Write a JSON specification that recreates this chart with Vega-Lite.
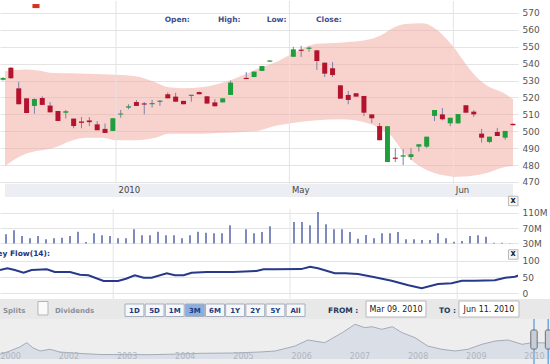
{
  "$schema": "https://vega.github.io/schema/vega-lite/v6.json",
  "padding": 0,
  "spacing": 0,
  "bounds": "flush",
  "background": "white",
  "config": {
    "view": {"stroke": null},
    "font": "DejaVu Sans",
    "axis": {"labelFont": "DejaVu Sans", "labelOverlap": false, "labelBound": false},
    "text": {"font": "DejaVu Sans"}
  },
  "datasets": {
    "candles": [
      {"s": -1, "o": 530.5, "h": 532, "l": 530, "c": 531.5},
      {"s": 0, "o": 537.6, "h": 538, "l": 531, "c": 531.4},
      {"s": 1, "o": 525.4, "h": 529.3, "l": 516, "c": 516},
      {"s": 2, "o": 519.5, "h": 519.5, "l": 510.8, "c": 510.8},
      {"s": 3, "o": 515, "h": 519.5, "l": 510.4, "c": 519.1},
      {"s": 4, "o": 519.7, "h": 520.7, "l": 515.6, "c": 515.6},
      {"s": 5, "o": 515.2, "h": 517.3, "l": 511.2, "c": 511.2},
      {"s": 6, "o": 512, "h": 512, "l": 506, "c": 506.1},
      {"s": 7, "o": 511, "h": 512.6, "l": 507.5, "c": 511.9},
      {"s": 8, "o": 507.5, "h": 507.5, "l": 501.8, "c": 503.1},
      {"s": 9, "o": 505.8, "h": 508.5, "l": 501.8, "c": 505},
      {"s": 10, "o": 506.4, "h": 508.4, "l": 503.1, "c": 505.4},
      {"s": 11, "o": 504.1, "h": 506, "l": 500.6, "c": 500.6},
      {"s": 12, "o": 501.4, "h": 504.6, "l": 499, "c": 499},
      {"s": 13, "o": 500.2, "h": 507.7, "l": 500.2, "c": 507.7},
      {"s": 14, "o": 509.9, "h": 512.6, "l": 508, "c": 510.5},
      {"s": 15, "o": 514, "h": 516, "l": 513, "c": 514.8},
      {"s": 16, "o": 517.3, "h": 518.5, "l": 515, "c": 515},
      {"s": 17, "o": 516.5, "h": 517.3, "l": 510, "c": 515.8},
      {"s": 18, "o": 516, "h": 518.6, "l": 514, "c": 516.7},
      {"s": 19, "o": 517.4, "h": 518.5, "l": 515, "c": 518.1},
      {"s": 20, "o": 521.9, "h": 523, "l": 519.5, "c": 519.5},
      {"s": 21, "o": 520.5, "h": 522.8, "l": 517.5, "c": 517.5},
      {"s": 22, "o": 518, "h": 518, "l": 516, "c": 516},
      {"s": 23, "o": 520.9, "h": 521.6, "l": 517.5, "c": 521.6},
      {"s": 24, "o": 523.2, "h": 523.5, "l": 521.9, "c": 521.9},
      {"s": 25, "o": 520.7, "h": 520.7, "l": 516.4, "c": 516.4},
      {"s": 26, "o": 517.1, "h": 519, "l": 514.8, "c": 514.8},
      {"s": 27, "o": 517.1, "h": 519.5, "l": 517.1, "c": 519.5},
      {"s": 28, "o": 521.5, "h": 530, "l": 521.5, "c": 528.8},
      {"s": 30, "o": 531.6, "h": 535, "l": 531, "c": 530.9},
      {"s": 31, "o": 532.1, "h": 535.3, "l": 532, "c": 535.3},
      {"s": 32, "o": 535.7, "h": 538.6, "l": 535.7, "c": 538.6},
      {"s": 33, "o": 541.2, "h": 541.9, "l": 541.2, "c": 541.9},
      {"s": 36, "o": 544.1, "h": 550, "l": 544, "c": 548.5},
      {"s": 37, "o": 548.3, "h": 550.6, "l": 544, "c": 547.6},
      {"s": 38, "o": 548.8, "h": 550.2, "l": 547.1, "c": 549.5},
      {"s": 39, "o": 547.9, "h": 548, "l": 536.3, "c": 541.6},
      {"s": 40, "o": 540.6, "h": 540.6, "l": 532.1, "c": 534.1},
      {"s": 41, "o": 537.3, "h": 541, "l": 532.1, "c": 533.3},
      {"s": 42, "o": 527.2, "h": 527.2, "l": 519.3, "c": 519.3},
      {"s": 43, "o": 521.5, "h": 523.8, "l": 516, "c": 518.5},
      {"s": 44, "o": 522.5, "h": 522.5, "l": 520.5, "c": 520.5},
      {"s": 45, "o": 520.9, "h": 520.9, "l": 509, "c": 511},
      {"s": 46, "o": 510, "h": 510, "l": 504.9, "c": 507.7},
      {"s": 47, "o": 503.1, "h": 504.9, "l": 494.7, "c": 494.7},
      {"s": 48, "o": 481.8, "h": 503, "l": 481.8, "c": 503},
      {"s": 49, "o": 484.4, "h": 490, "l": 481.8, "c": 483.7},
      {"s": 50, "o": 485, "h": 489.3, "l": 480, "c": 485.8},
      {"s": 51, "o": 484.8, "h": 490, "l": 483, "c": 486.4},
      {"s": 52, "o": 490.9, "h": 492.3, "l": 488, "c": 492.3},
      {"s": 53, "o": 490.9, "h": 496.8, "l": 490, "c": 496.8},
      {"s": 54, "o": 509.1, "h": 512.6, "l": 506, "c": 512.6},
      {"s": 55, "o": 510, "h": 513.8, "l": 506.5, "c": 507.1},
      {"s": 56, "o": 504.7, "h": 508, "l": 503, "c": 508},
      {"s": 57, "o": 504.7, "h": 510.2, "l": 504.5, "c": 510.2},
      {"s": 58, "o": 515.4, "h": 515.4, "l": 511, "c": 511},
      {"s": 59, "o": 511.6, "h": 512.5, "l": 508.5, "c": 510},
      {"s": 60, "o": 498.6, "h": 501.4, "l": 493.3, "c": 496.2},
      {"s": 61, "o": 493.7, "h": 496.8, "l": 493, "c": 496.8},
      {"s": 62, "o": 499.6, "h": 502, "l": 497.2, "c": 497.2},
      {"s": 63, "o": 496.2, "h": 500.2, "l": 495, "c": 500.2},
      {"s": 64, "o": 504.4, "h": 504.6, "l": 503.4, "c": 503.6}
    ],
    "band": [
      {"s": -0.75, "up": 535.5, "lo": 479.5},
      {"s": 1.75, "up": 536.5, "lo": 486.4},
      {"s": 3.4, "up": 536, "lo": 488.4},
      {"s": 5.5, "up": 534.5, "lo": 490.3},
      {"s": 7.6, "up": 534.3, "lo": 494.3},
      {"s": 9.6, "up": 534, "lo": 496.2},
      {"s": 11.75, "up": 533.8, "lo": 496.2},
      {"s": 13.4, "up": 533.5, "lo": 494.7},
      {"s": 15.9, "up": 532.5, "lo": 494.7},
      {"s": 18.4, "up": 529, "lo": 496.2},
      {"s": 20.1, "up": 526, "lo": 498.6},
      {"s": 22.1, "up": 525.5, "lo": 498.6},
      {"s": 24.25, "up": 526, "lo": 498.6},
      {"s": 26.4, "up": 528, "lo": 499},
      {"s": 28.4, "up": 531, "lo": 499.2},
      {"s": 30.5, "up": 535, "lo": 499.8},
      {"s": 31.4, "up": 537, "lo": 500.2},
      {"s": 33.6, "up": 540.6, "lo": 503.1},
      {"s": 36.1, "up": 546.5, "lo": 505.1},
      {"s": 39, "up": 551.8, "lo": 506.5},
      {"s": 42, "up": 552.4, "lo": 507.1},
      {"s": 45.75, "up": 554.4, "lo": 504.5},
      {"s": 47.4, "up": 557.4, "lo": 500.5},
      {"s": 48.25, "up": 560, "lo": 498.2},
      {"s": 50.25, "up": 563.5, "lo": 486.4},
      {"s": 52.4, "up": 564, "lo": 478.5},
      {"s": 54.5, "up": 559.3, "lo": 474.6},
      {"s": 55.75, "up": 553.4, "lo": 473.5},
      {"s": 56.5, "up": 549.5, "lo": 473},
      {"s": 57.4, "up": 543.6, "lo": 473.2},
      {"s": 58.6, "up": 536, "lo": 473.6},
      {"s": 60.75, "up": 526.8, "lo": 475.5},
      {"s": 62.75, "up": 522.8, "lo": 478.5},
      {"s": 64, "up": 519, "lo": 479.5}
    ],
    "vgrid": [{"s": 13.4}, {"s": 35.5}, {"s": 56.4}],
    "vol": [
      {"s": 0, "v": 54}, {"s": 1, "v": 64.5}, {"s": 2, "v": 49.6}, {"s": 3, "v": 43.6},
      {"s": 4, "v": 49.6}, {"s": 5, "v": 41}, {"s": 6, "v": 43.6}, {"s": 7, "v": 45},
      {"s": 8, "v": 49.6}, {"s": 9, "v": 60.8}, {"s": 10, "v": 34}, {"s": 11, "v": 56.6},
      {"s": 12, "v": 51.4}, {"s": 13, "v": 49.6}, {"s": 14, "v": 43.6}, {"s": 15, "v": 43.6},
      {"s": 16, "v": 67}, {"s": 17, "v": 51.4}, {"s": 18, "v": 51.4}, {"s": 19, "v": 60.8},
      {"s": 20, "v": 51.4}, {"s": 21, "v": 51.4}, {"s": 22, "v": 43.6}, {"s": 23, "v": 51.4},
      {"s": 24, "v": 60.8}, {"s": 25, "v": 58}, {"s": 26, "v": 56.6}, {"s": 27, "v": 56.6},
      {"s": 28, "v": 77.5}, {"s": 30, "v": 67}, {"s": 31, "v": 56.6}, {"s": 32, "v": 60},
      {"s": 33, "v": 75}, {"s": 36, "v": 86}, {"s": 37, "v": 86}, {"s": 38, "v": 77.5},
      {"s": 39, "v": 112}, {"s": 40, "v": 80}, {"s": 41, "v": 67}, {"s": 42, "v": 67},
      {"s": 43, "v": 60}, {"s": 44, "v": 42.5}, {"s": 45, "v": 52}, {"s": 46, "v": 43.6},
      {"s": 47, "v": 56.6}, {"s": 48, "v": 56.6}, {"s": 49, "v": 60}, {"s": 50, "v": 41},
      {"s": 51, "v": 41}, {"s": 52, "v": 39}, {"s": 53, "v": 39}, {"s": 54, "v": 56.6},
      {"s": 55, "v": 43.6}, {"s": 56, "v": 34.7}, {"s": 57, "v": 36.5}, {"s": 58, "v": 49.6},
      {"s": 59, "v": 51.4}, {"s": 60, "v": 47.8}, {"s": 61, "v": 32}, {"s": 62, "v": 32},
      {"s": 63, "v": 30.8}
    ],
    "mf": [
      {"s": -0.75, "m": 71.7}, {"s": 0.17, "m": 77}, {"s": 1.1, "m": 71.7}, {"s": 2.2, "m": 63.4},
      {"s": 3.2, "m": 71.7}, {"s": 5.1, "m": 73.8}, {"s": 6.1, "m": 65.5}, {"s": 8, "m": 65.5},
      {"s": 9.25, "m": 57.2}, {"s": 10.3, "m": 55.4}, {"s": 12.2, "m": 37.8}, {"s": 14, "m": 37.8},
      {"s": 15, "m": 45}, {"s": 16.1, "m": 55.4}, {"s": 17.2, "m": 48}, {"s": 18.2, "m": 48},
      {"s": 20.1, "m": 61.5}, {"s": 21.1, "m": 55.4}, {"s": 22.2, "m": 55.4}, {"s": 23.2, "m": 63.4},
      {"s": 25.1, "m": 65.5}, {"s": 28.4, "m": 65.5}, {"s": 31.3, "m": 68.6}, {"s": 32.2, "m": 73.8},
      {"s": 33.6, "m": 73.8}, {"s": 36.9, "m": 74.5}, {"s": 38, "m": 81.8}, {"s": 39, "m": 77},
      {"s": 41.1, "m": 61.5}, {"s": 42.4, "m": 61.5}, {"s": 44, "m": 59.4}, {"s": 46.1, "m": 49.2},
      {"s": 48.2, "m": 38.8}, {"s": 50.3, "m": 24.6}, {"s": 51.96, "m": 15.4}, {"s": 54, "m": 28.6},
      {"s": 55.7, "m": 30.8}, {"s": 57, "m": 38.8}, {"s": 58.6, "m": 38.8}, {"s": 61.1, "m": 40},
      {"s": 62.4, "m": 48}, {"s": 63.6, "m": 51}, {"s": 64.25, "m": 56.3}
    ],
    "nav": [
      {"t": 2001.0, "p": 47}, {"t": 2001.17, "p": 80}, {"t": 2001.34, "p": 120}, {"t": 2001.46, "p": 163},
      {"t": 2001.57, "p": 110}, {"t": 2001.69, "p": 80}, {"t": 2001.86, "p": 97}, {"t": 2002.03, "p": 70},
      {"t": 2002.32, "p": 57}, {"t": 2002.72, "p": 45}, {"t": 2003.58, "p": 43}, {"t": 2004.09, "p": 50},
      {"t": 2004.44, "p": 57}, {"t": 2005.0, "p": 60}, {"t": 2005.47, "p": 70}, {"t": 2005.73, "p": 80},
      {"t": 2006.07, "p": 130}, {"t": 2006.29, "p": 190}, {"t": 2006.58, "p": 163}, {"t": 2006.88, "p": 263},
      {"t": 2007.1, "p": 347}, {"t": 2007.27, "p": 313}, {"t": 2007.39, "p": 323}, {"t": 2007.56, "p": 297},
      {"t": 2007.74, "p": 323}, {"t": 2007.91, "p": 263}, {"t": 2008.13, "p": 213}, {"t": 2008.35, "p": 130},
      {"t": 2008.59, "p": 97}, {"t": 2008.82, "p": 80}, {"t": 2009.04, "p": 97}, {"t": 2009.28, "p": 147},
      {"t": 2009.51, "p": 180}, {"t": 2009.73, "p": 190}, {"t": 2009.97, "p": 147}, {"t": 2010.14, "p": 163},
      {"t": 2010.45, "p": 160}
    ],
    "buttons": [
      {"b": "1D"}, {"b": "5D"}, {"b": "1M"}, {"b": "3M"}, {"b": "6M"}, {"b": "1Y"}, {"b": "2Y"}, {"b": "5Y"}, {"b": "All"}
    ],
    "one": [{}]
  },
  "vconcat": [
    {
      "width": 518,
      "height": 196,
      "layer": [
        {
          "data": {"name": "band"},
          "mark": {"type": "area", "interpolate": "monotone", "fill": "#f2a69c", "opacity": 0.5, "clip": true},
          "encoding": {
            "x": {"field": "s", "type": "quantitative",
                  "scale": {"domain": [-0.75, 64], "nice": false, "zero": false},
                  "axis": {"orient": "bottom", "values": [13.4, 35.5, 56.4], "tickCount": 50,
                           "labelExpr": "datum.value < 20 ? '2010' : (datum.value < 40 ? 'May' : 'Jun')",
                           "offset": -12, "labelPadding": 0, "ticks": false, "domain": false, "grid": false,
                           "title": null, "labelAlign": "left", "labelOffset": 2, "labelColor": "#444",
                           "labelFontSize": 8.5, "labelFlush": false, "labelOverlap": false, "zindex": 2}},
            "y": {"field": "up", "type": "quantitative",
                  "scale": {"domain": [461.1, 577.1], "nice": false, "zero": false},
                  "axis": {"orient": "right", "values": [470, 480, 490, 500, 510, 520, 530, 540, 550, 560, 570], "tickCount": 50,
                           "grid": true, "gridColor": "#e4e4e4", "ticks": false, "domain": false,
                           "labelOverlap": false, "labelFlush": false,
                           "labelPadding": 4, "title": null, "labelColor": "#555", "labelFontSize": 9}},
            "y2": {"field": "lo"}
          }
        },
        {
          "data": {"name": "one"},
          "mark": {"type": "rect", "color": "#eceef3"},
          "encoding": {
            "x": {"datum": -0.75, "type": "quantitative"},
            "x2": {"datum": 64},
            "y": {"datum": 461.1, "type": "quantitative"},
            "y2": {"datum": 469}
          }
        },
        {
          "data": {"name": "vgrid"},
          "mark": {"type": "rule", "color": "#e4e4e4"},
          "encoding": {
            "x": {"field": "s", "type": "quantitative"},
            "y": {"datum": 469, "type": "quantitative"},
            "y2": {"datum": 577.1}
          }
        },
        {
          "data": {"name": "candles"},
          "mark": {"type": "rule", "color": "#7c82a8", "strokeWidth": 1, "clip": true},
          "encoding": {
            "x": {"field": "s", "type": "quantitative"},
            "y": {"field": "h", "type": "quantitative"},
            "y2": {"field": "l"}
          }
        },
        {
          "data": {"name": "candles"},
          "mark": {"type": "bar", "size": 5, "orient": "vertical", "clip": true},
          "encoding": {
            "x": {"field": "s", "type": "quantitative"},
            "y": {"field": "o", "type": "quantitative"},
            "y2": {"field": "c"},
            "color": {"condition": {"test": "datum.c >= datum.o", "value": "#1f9e3c"}, "value": "#b3132d"}
          }
        },
        {
          "data": {"name": "one"},
          "mark": {"type": "rect", "color": "#d8321f"},
          "encoding": {
            "x": {"datum": 2.75, "type": "quantitative"},
            "x2": {"datum": 3.65},
            "y": {"datum": 575.3, "type": "quantitative"},
            "y2": {"datum": 572.9}
          }
        },
        {
          "data": {"name": "one"},
          "mark": {"type": "text", "align": "left", "baseline": "middle", "fontWeight": "bold", "fontSize": 7.5, "color": "#3d4f8e"},
          "encoding": {"x": {"datum": 19.6, "type": "quantitative"}, "y": {"datum": 565.9, "type": "quantitative"}, "text": {"value": "Open:"}}
        },
        {
          "data": {"name": "one"},
          "mark": {"type": "text", "align": "left", "baseline": "middle", "fontWeight": "bold", "fontSize": 7.5, "color": "#3d4f8e"},
          "encoding": {"x": {"datum": 26.4, "type": "quantitative"}, "y": {"datum": 565.9, "type": "quantitative"}, "text": {"value": "High:"}}
        },
        {
          "data": {"name": "one"},
          "mark": {"type": "text", "align": "left", "baseline": "middle", "fontWeight": "bold", "fontSize": 7.5, "color": "#3d4f8e"},
          "encoding": {"x": {"datum": 32.6, "type": "quantitative"}, "y": {"datum": 565.9, "type": "quantitative"}, "text": {"value": "Low:"}}
        },
        {
          "data": {"name": "one"},
          "mark": {"type": "text", "align": "left", "baseline": "middle", "fontWeight": "bold", "fontSize": 7.5, "color": "#3d4f8e"},
          "encoding": {"x": {"datum": 38.9, "type": "quantitative"}, "y": {"datum": 565.9, "type": "quantitative"}, "text": {"value": "Close:"}}
        }
      ]
    },
    {
      "width": 518,
      "height": 51,
      "layer": [
        {
          "data": {"name": "vgrid"},
          "mark": {"type": "rule", "color": "#e4e4e4"},
          "encoding": {
            "x": {"field": "s", "type": "quantitative", "scale": {"domain": [-0.75, 64], "nice": false, "zero": false}, "axis": null},
            "y": {"datum": 18.25, "type": "quantitative"},
            "y2": {"datum": 120}
          }
        },
        {
          "data": {"name": "vol"},
          "mark": {"type": "rule", "color": "#5464a8", "strokeWidth": 1.5},
          "encoding": {
            "x": {"field": "s", "type": "quantitative", "axis": null},
            "y": {"field": "v", "type": "quantitative",
                  "scale": {"domain": [18.25, 151.4], "nice": false, "zero": false},
                  "axis": {"orient": "right", "values": [30, 70, 110], "tickCount": 50, "labelExpr": "datum.value + 'M'",
                           "grid": true, "gridColor": "#e4e4e4", "ticks": false, "domain": false,
                           "labelOverlap": false, "labelFlush": false,
                           "labelPadding": 4, "title": null, "labelColor": "#555", "labelFontSize": 9}},
            "y2": {"datum": 30}
          }
        },
        {
          "data": {"name": "one"},
          "mark": {"type": "point", "shape": "square", "size": 90, "filled": true, "fill": "#f4f4f4", "stroke": "#9a9a9a", "strokeWidth": 1},
          "encoding": {"x": {"datum": 63.4, "type": "quantitative", "axis": null}, "y": {"datum": 141, "type": "quantitative"}}
        },
        {
          "data": {"name": "one"},
          "mark": {"type": "text", "align": "center", "baseline": "middle", "fontWeight": "bold", "fontSize": 8, "color": "#222"},
          "encoding": {"x": {"datum": 63.4, "type": "quantitative", "axis": null}, "y": {"datum": 141.5, "type": "quantitative"}, "text": {"value": "x"}}
        }
      ]
    },
    {
      "width": 518,
      "height": 51,
      "layer": [
        {
          "data": {"name": "vgrid"},
          "mark": {"type": "rule", "color": "#e4e4e4"},
          "encoding": {
            "x": {"field": "s", "type": "quantitative", "scale": {"domain": [-0.75, 64], "nice": false, "zero": false}, "axis": null}
          }
        },
        {
          "data": {"name": "mf"},
          "mark": {"type": "line", "color": "#27398a", "strokeWidth": 2, "clip": true},
          "encoding": {
            "x": {"field": "s", "type": "quantitative", "axis": null},
            "y": {"field": "m", "type": "quantitative",
                  "scale": {"domain": [-17.5, 139.4], "nice": false, "zero": false},
                  "axis": {"orient": "right", "values": [0, 50, 100], "tickCount": 50,
                           "grid": true, "gridColor": "#e4e4e4", "ticks": false, "domain": false,
                           "labelOverlap": false, "labelFlush": false,
                           "labelPadding": 4, "title": null, "labelColor": "#555", "labelFontSize": 9}}
          }
        },
        {
          "data": {"name": "one"},
          "mark": {"type": "text", "align": "right", "baseline": "middle", "fontWeight": "bold", "fontSize": 7.5, "color": "#24357a", "clip": true},
          "encoding": {"x": {"datum": 5.5, "type": "quantitative", "axis": null}, "y": {"datum": 121, "type": "quantitative"}, "text": {"value": "Money Flow(14):"}}
        },
        {
          "data": {"name": "one"},
          "mark": {"type": "point", "shape": "square", "size": 90, "filled": true, "fill": "#f4f4f4", "stroke": "#9a9a9a", "strokeWidth": 1},
          "encoding": {"x": {"datum": 63.4, "type": "quantitative", "axis": null}, "y": {"datum": 119.4, "type": "quantitative"}}
        },
        {
          "data": {"name": "one"},
          "mark": {"type": "text", "align": "center", "baseline": "middle", "fontWeight": "bold", "fontSize": 8, "color": "#222"},
          "encoding": {"x": {"datum": 63.4, "type": "quantitative", "axis": null}, "y": {"datum": 120.5, "type": "quantitative"}, "text": {"value": "x"}}
        }
      ]
    },
    {
      "width": 550,
      "height": 20,
      "view": {"fill": "#e8e8e8", "stroke": null},
      "resolve": {"scale": {"x": "independent"}},
      "layer": [
        {
          "data": {"name": "one"},
          "layer": [
            {
              "mark": {"type": "text", "align": "left", "baseline": "middle", "fontWeight": "bold", "fontSize": 7, "color": "#8b909b"},
              "encoding": {"x": {"datum": 0.55, "type": "quantitative", "scale": {"domain": [0, 100], "nice": false, "zero": false}, "axis": null},
                           "y": {"datum": 8, "type": "quantitative", "scale": {"domain": [0, 20], "nice": false, "zero": false}, "axis": null},
                           "text": {"value": "Splits"}}
            },
            {
              "mark": {"type": "rect", "fill": "#fafafa", "stroke": "#b5b5b5", "strokeWidth": 1},
              "encoding": {"x": {"datum": 6.9, "type": "quantitative", "axis": null}, "x2": {"datum": 8.73},
                           "y": {"datum": 17.5, "type": "quantitative", "axis": null}, "y2": {"datum": 4}}
            },
            {
              "mark": {"type": "text", "align": "left", "baseline": "middle", "fontWeight": "bold", "fontSize": 7, "color": "#8b909b"},
              "encoding": {"x": {"datum": 10, "type": "quantitative", "axis": null}, "y": {"datum": 8, "type": "quantitative", "axis": null}, "text": {"value": "Dividends"}}
            },
            {
              "mark": {"type": "text", "align": "left", "baseline": "middle", "fontWeight": "bold", "fontSize": 7.5, "color": "#22395a"},
              "encoding": {"x": {"datum": 59.64, "type": "quantitative", "axis": null}, "y": {"datum": 8, "type": "quantitative", "axis": null}, "text": {"value": "FROM :"}}
            },
            {
              "mark": {"type": "rect", "fill": "#ffffff", "stroke": "#b8b8b8", "strokeWidth": 1},
              "encoding": {"x": {"datum": 66.55, "type": "quantitative", "axis": null}, "x2": {"datum": 77.45},
                           "y": {"datum": 18, "type": "quantitative", "axis": null}, "y2": {"datum": 2}}
            },
            {
              "mark": {"type": "text", "align": "center", "baseline": "middle", "fontSize": 8, "color": "#222"},
              "encoding": {"x": {"datum": 72, "type": "quantitative", "axis": null}, "y": {"datum": 9, "type": "quantitative", "axis": null}, "text": {"value": "Mar 09. 2010"}}
            },
            {
              "mark": {"type": "text", "align": "left", "baseline": "middle", "fontWeight": "bold", "fontSize": 7.5, "color": "#22395a"},
              "encoding": {"x": {"datum": 79.8, "type": "quantitative", "axis": null}, "y": {"datum": 8, "type": "quantitative", "axis": null}, "text": {"value": "TO :"}}
            },
            {
              "mark": {"type": "rect", "fill": "#ffffff", "stroke": "#b8b8b8", "strokeWidth": 1},
              "encoding": {"x": {"datum": 83.45, "type": "quantitative", "axis": null}, "x2": {"datum": 94.36},
                           "y": {"datum": 18, "type": "quantitative", "axis": null}, "y2": {"datum": 2}}
            },
            {
              "mark": {"type": "text", "align": "center", "baseline": "middle", "fontSize": 8, "color": "#222"},
              "encoding": {"x": {"datum": 88.9, "type": "quantitative", "axis": null}, "y": {"datum": 9, "type": "quantitative", "axis": null}, "text": {"value": "Jun 11. 2010"}}
            }
          ]
        },
        {
          "data": {"name": "buttons"},
          "layer": [
            {
              "mark": {"type": "bar", "stroke": "#a6adbd", "strokeWidth": 1},
              "encoding": {
                "x": {"field": "b", "type": "nominal",
                      "scale": {"domain": ["1D", "5D", "1M", "3M", "6M", "1Y", "2Y", "5Y", "All"], "range": [125, 305], "paddingInner": 0.06, "paddingOuter": 0},
                      "axis": null},
                "y": {"datum": 15, "type": "quantitative", "axis": null},
                "y2": {"datum": 2.5},
                "fill": {"condition": {"test": "datum.b == '3M'", "value": "#88afe0"}, "value": "#f6f7f9"}
              }
            },
            {
              "mark": {"type": "text", "align": "center", "baseline": "middle", "fontWeight": "bold", "fontSize": 7, "color": "#1e3a80"},
              "encoding": {
                "x": {"field": "b", "type": "nominal", "axis": null},
                "y": {"datum": 8.5, "type": "quantitative", "axis": null},
                "text": {"field": "b"}
              }
            }
          ]
        }
      ]
    },
    {
      "width": 550,
      "height": 46,
      "view": {"fill": "#eeeeee", "stroke": null},
      "layer": [
        {
          "data": {"name": "nav"},
          "mark": {"type": "area", "color": "#dadfe7", "clip": true},
          "encoding": {
            "x": {"field": "t", "type": "quantitative",
                  "scale": {"domain": [2001, 2010.45], "nice": false, "zero": false},
                  "axis": {"orient": "bottom", "values": [2001, 2002, 2003, 2004, 2005, 2006, 2007, 2008, 2009, 2010], "tickCount": 50,
                           "format": "d", "labelExpr": "datum.value == 2001 ? '2000' : datum.label",
                           "offset": -12.5, "labelPadding": 0, "ticks": false, "domain": false, "grid": false,
                           "title": null, "labelAlign": "left", "labelColor": "#b0b5bf", "labelFontSize": 8,
                           "labelFlush": false, "labelOverlap": false, "zindex": 1}},
            "y": {"field": "p", "type": "quantitative", "scale": {"domain": [-60, 400], "nice": false, "zero": false}, "axis": null},
            "y2": {"datum": 0}
          }
        },
        {
          "data": {"name": "nav"},
          "mark": {"type": "line", "color": "#a3aab8", "strokeWidth": 1, "clip": true},
          "encoding": {
            "x": {"field": "t", "type": "quantitative"},
            "y": {"field": "p", "type": "quantitative", "axis": null}
          }
        },
        {
          "data": {"name": "one"},
          "mark": {"type": "rule", "color": "#6fa8de", "strokeWidth": 1.5},
          "encoding": {"x": {"datum": 2010.175, "type": "quantitative"}, "y": {"datum": -60, "type": "quantitative", "axis": null}, "y2": {"datum": 400}}
        },
        {
          "data": {"name": "one"},
          "mark": {"type": "rule", "color": "#6fa8de", "strokeWidth": 1.5},
          "encoding": {"x": {"datum": 2010.42, "type": "quantitative"}, "y": {"datum": -60, "type": "quantitative", "axis": null}, "y2": {"datum": 400}}
        },
        {
          "data": {"name": "one"},
          "mark": {"type": "rect", "fill": "#c9cdd5", "stroke": "#6a6e78", "strokeWidth": 1, "cornerRadius": 1.5},
          "encoding": {"x": {"datum": 2010.12, "type": "quantitative"}, "x2": {"datum": 2010.23},
                       "y": {"datum": 100, "type": "quantitative", "axis": null}, "y2": {"datum": 290}}
        },
        {
          "data": {"name": "one"},
          "mark": {"type": "rect", "fill": "#c9cdd5", "stroke": "#6a6e78", "strokeWidth": 1, "cornerRadius": 1.5},
          "encoding": {"x": {"datum": 2010.37, "type": "quantitative"}, "x2": {"datum": 2010.47},
                       "y": {"datum": 100, "type": "quantitative", "axis": null}, "y2": {"datum": 290}}
        }
      ]
    }
  ]
}
